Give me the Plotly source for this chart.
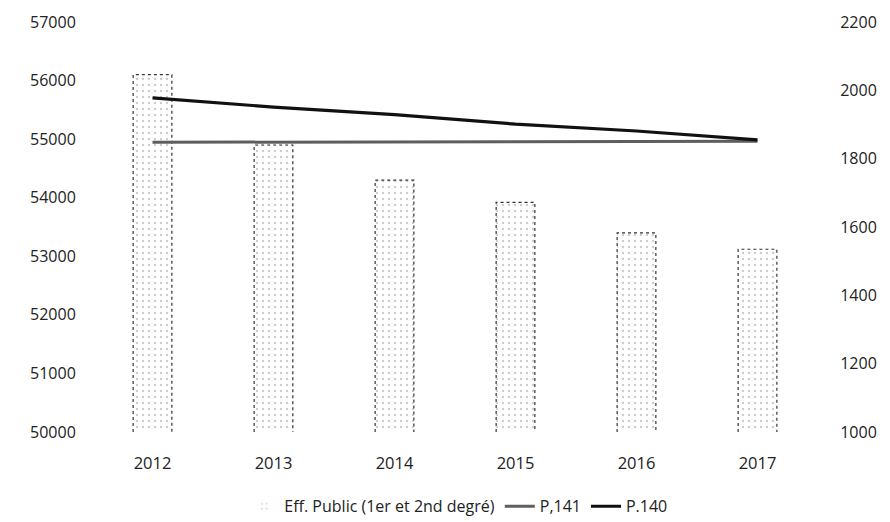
import plotly.graph_objects as go

years = ["2012", "2013", "2014", "2015", "2016", "2017"]
eff_public = [56100, 54900, 54300, 53920, 53400, 53120]
p141 = [1848, 1848, 1849, 1849, 1850, 1851]
p140 = [1978, 1951, 1929, 1901, 1881, 1855]

left_ticks = [50000, 51000, 52000, 53000, 54000, 55000, 56000, 57000]
right_ticks = [1000, 1200, 1400, 1600, 1800, 2000, 2200]

xs = list(range(len(years)))
bar_w = 0.32
FONT = "Open Sans"

fig = go.Figure()

fig.add_trace(go.Bar(
    x=xs, y=eff_public, width=bar_w,
    name="Eff. Public (1er et 2nd degré)",
    marker=dict(color="white",
                line=dict(color="rgba(0,0,0,0)", width=0),
                pattern=dict(shape=".", fgcolor="#9a9a9a", bgcolor="white",
                             size=6, solidity=0.12)),
    yaxis="y",
))

# dotted outlines of bars (derived from data)
for i, v in zip(xs, eff_public):
    fig.add_trace(go.Scatter(
        x=[i - bar_w / 2, i - bar_w / 2, i + bar_w / 2, i + bar_w / 2],
        y=[left_ticks[0], v, v, left_ticks[0]],
        mode="lines", line=dict(color="#333", width=1.2, dash="dot"),
        showlegend=False, hoverinfo="skip", yaxis="y",
    ))

fig.add_trace(go.Scatter(
    x=xs, y=p141, name="P,141", mode="lines",
    line=dict(color="#5e5e5e", width=3), yaxis="y2",
))
fig.add_trace(go.Scatter(
    x=xs, y=p140, name="P.140", mode="lines",
    line=dict(color="#111", width=3.2), yaxis="y2",
))

fig.update_layout(
    width=890, height=522,
    margin=dict(l=92, r=72, t=22, b=90),
    paper_bgcolor="white", plot_bgcolor="white",
    font=dict(family=FONT, size=16, color="#222"),
    showlegend=True,
    legend=dict(orientation="h", x=0.515, xanchor="center",
                xref="container", yref="container", y=0.03, yanchor="middle",
                font=dict(family=FONT, size=16, color="#222"),
                traceorder="normal", itemwidth=30),
    xaxis=dict(range=[-0.5, 5.5], tickmode="array", tickvals=xs, ticktext=years,
               showgrid=False, zeroline=False, showline=False, automargin=False,
               tickfont=dict(size=16.5),
               ticks="outside", ticklen=16, tickcolor="rgba(0,0,0,0)"),
    yaxis=dict(range=[left_ticks[0], left_ticks[-1]], tickmode="array",
               tickvals=left_ticks, tickformat="d", automargin=False,
               showgrid=False, zeroline=False, showline=False,
               ticks="outside", ticklen=12, tickcolor="rgba(0,0,0,0)"),
    yaxis2=dict(range=[right_ticks[0], right_ticks[-1]], tickmode="array",
                tickvals=right_ticks, tickformat="d", overlaying="y", side="right",
                showgrid=False, zeroline=False, showline=False, automargin=False,
                ticks="outside", ticklen=18, tickcolor="rgba(0,0,0,0)"),
)

fig.write_html("out.html", config={"displayModeBar": False},
               post_script="document.body.style.margin='0';document.body.style.overflow='hidden';")
